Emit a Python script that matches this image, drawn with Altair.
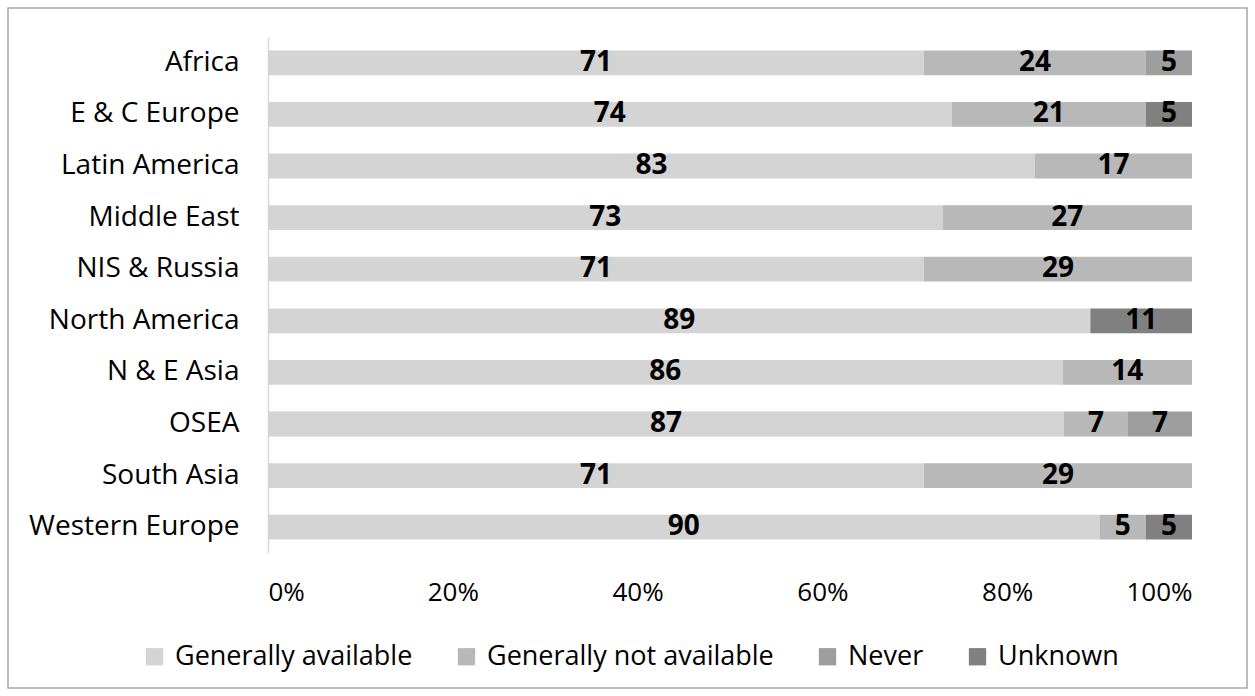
import altair as alt
import pandas as pd

regions = ["Africa", "E & C Europe", "Latin America", "Middle East", "NIS & Russia",
           "North America", "N & E Asia", "OSEA", "South Asia", "Western Europe"]
categories = ["Generally available", "Generally not available", "Never", "Unknown"]
colors = ["#d4d4d4", "#b8b8b8", "#9e9e9e", "#808080"]

generally_available = [71, 74, 83, 73, 71, 89, 86, 87, 71, 90]
generally_not_available = [24, 21, 17, 27, 29, 0, 14, 7, 29, 5]
never = [5, 0, 0, 0, 0, 0, 0, 7, 0, 0]
unknown = [0, 5, 0, 0, 0, 11, 0, 0, 0, 5]

series = [generally_available, generally_not_available, never, unknown]
rows = []
for ci, (cat, vals) in enumerate(zip(categories, series)):
    for r, v in zip(regions, vals):
        if v > 0:
            rows.append({"region": r, "category": cat, "order": ci, "value": v})
df = pd.DataFrame(rows)

FONT = "Open Sans"

base = alt.Chart(df).transform_stack(
    stack="value", groupby=["region"], as_=["x0", "x1"],
    offset="normalize", sort=[alt.SortField("order", "ascending")]
).transform_calculate(mid="(datum.x0 + datum.x1) / 2")

y_enc = alt.Y("region:N", sort=regions, title=None,
              scale=alt.Scale(paddingInner=0.52, paddingOuter=0.26),
              axis=alt.Axis(labelFontSize=28, labelFont=FONT, labelColor="#000000",
                            labelPadding=29, labelLimit=0, ticks=False,
                            domainColor="#d9d9d9", domainWidth=1.5))

x_axis = alt.Axis(format="%", values=[0, 0.2, 0.4, 0.6, 0.8, 1.0],
                  labelFontSize=26, labelFont=FONT, labelColor="#000000",
                  labelPadding=26, ticks=False, domain=False, grid=False)

bars = base.mark_bar().encode(
    x=alt.X("x0:Q", scale=alt.Scale(domain=[0, 1]), title=None, axis=x_axis),
    x2="x1:Q",
    y=y_enc,
    color=alt.Color("category:N", sort=categories,
                    scale=alt.Scale(domain=categories, range=colors),
                    legend=alt.Legend(title=None, orient="none", direction="horizontal",
                                      legendX=-127, legendY=606, columns=4,
                                      symbolType="square", symbolSize=300,
                                      symbolStrokeWidth=0, labelLimit=0,
                                      labelFontSize=27, labelFont=FONT,
                                      labelColor="#000000", columnPadding=40,
                                      labelOffset=7)),
)

labels = base.mark_text(fontSize=28, fontWeight="bold", font=FONT, color="#000000").encode(
    x=alt.X("mid:Q", scale=alt.Scale(domain=[0, 1]), title=None, axis=x_axis),
    y=alt.Y("region:N", sort=regions),
    text=alt.Text("value:Q"),
)

frame = alt.Chart(pd.DataFrame({"k": [0]})).mark_rect(
    fill=None, stroke="#a6a6a6", strokeWidth=1.5
).encode(x=alt.value(-260), x2=alt.value(979), y=alt.value(-29), y2=alt.value(651))

chart = alt.layer(frame, bars, labels).properties(
    width=924, height=516,
    background="#ffffff",
    padding={"left": 268, "top": 37, "right": 63, "bottom": 143},
    autosize=alt.AutoSizeParams(type="none"),
).configure_view(strokeWidth=0)

chart.save("out.html", embed_options={"renderer": "svg", "actions": False})
